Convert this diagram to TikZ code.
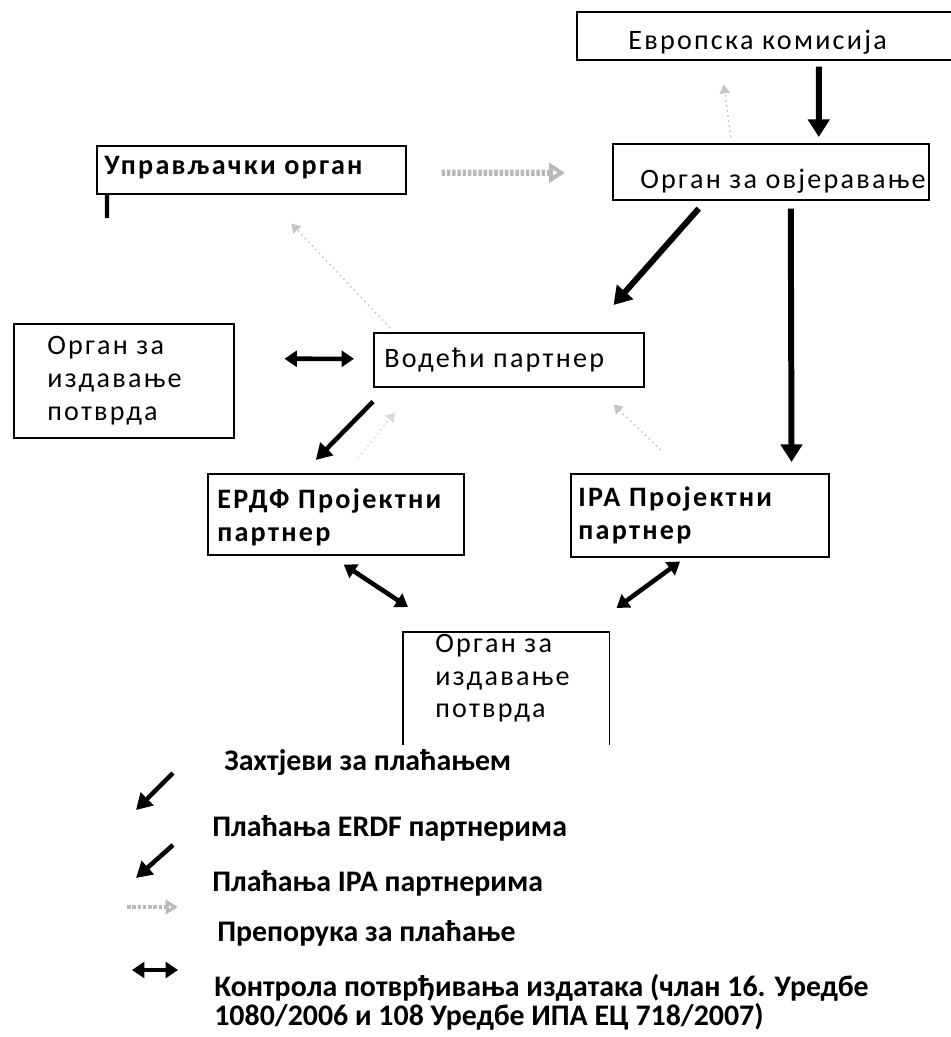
\documentclass[tikz,border=0pt]{standalone}
\usepackage{fontspec}
\setmainfont{Carlito}
\newfontfamily\boxfont[LetterSpace=8]{Carlito}
\usetikzlibrary{arrows.meta}

\begin{document}
\begin{tikzpicture}[x=0.02cm,y=-0.02cm,
	box/.style={draw,line width=0.9pt,inner sep=0pt,anchor=north west},
	boxtext/.style={anchor=west,inner sep=0pt,align=left,font=\boxfont\fontsize{16}{18.7}\selectfont},
	boldtext/.style={boxtext,font=\boxfont\bfseries\fontsize{16}{18.7}\selectfont},
	pay/.style={line width=3.4pt,-{Triangle[length=10pt,width=12pt]}},
	paythin/.style={line width=2.6pt,-{Triangle[length=9pt,width=10pt]}},
	ctrl/.style={line width=2.6pt,{Triangle[length=7pt,width=9pt]}-{Triangle[length=7pt,width=9pt]}},
	rec/.style={gray!55,line width=3.5pt,dash pattern=on 2pt off 1pt,-{Triangle[open,length=9pt,width=11pt]}},
	req/.style={gray!45,dotted,line width=0.9pt,-{Triangle[length=5pt,width=6pt]}},
	legend/.style={anchor=west,inner sep=0pt,align=left,font=\bfseries\fontsize{17}{16.6}\selectfont}]
	\useasboundingbox (0,0) rectangle (950,1037);
	% boxes
	\node[box,minimum width=7.78cm,minimum height=0.96cm](ec) at (576,11){};
	\node[boxtext,yshift=-0.12cm](ectext) at ([xshift=1.04cm]ec.west){Европска комисија};
	\node[box,minimum width=6.32cm,minimum height=1.12cm](ca) at (612,143){};
	\node[boxtext,yshift=-0.18cm](catext) at ([xshift=0.56cm]ca.west){Орган за овјеравање};
	\node[box,minimum width=6.18cm,minimum height=0.96cm](ma) at (96,145){};
	\node[boldtext,yshift=0.05cm](matext) at ([xshift=0.16cm]ma.west){Управљачки орган};
	\node[box,minimum width=4.4cm,minimum height=2.28cm](cbl) at (13,323){};
	\node[boxtext](cbltext) at ([xshift=0.68cm]cbl.west){Орган за\\издавање\\потврда};
	\node[box,minimum width=5.4cm,minimum height=1.08cm](lp) at (373,332){};
	\node[boxtext](lptext) at ([xshift=0.22cm]lp.west){Водећи партнер};
	\node[box,minimum width=5.12cm,minimum height=1.62cm](erdf) at (207,473){};
	\node[boldtext,yshift=-0.06cm](erdftext) at ([xshift=0.2cm]erdf.west){ЕРДФ Пројектни\\партнер};
	\node[box,minimum width=5.16cm,minimum height=1.66cm](ipa) at (570,473){};
	\node[boldtext](ipatext) at ([xshift=0.16cm]ipa.west){IPA Пројектни\\партнер};
	\node[box,draw=none,minimum width=4.1cm,minimum height=2.22cm](cbb) at (403,632){};
	\draw[line width=0.9pt](cbb.south west)--(cbb.north west)--(cbb.north east)--(cbb.south east);
	\node[boxtext,yshift=0.2cm](cbbtext) at ([xshift=0.64cm]cbb.west){Орган за\\издавање\\потврда};
	\coordinate (matail) at (107,218);
	\draw[line width=2.4pt]([xshift=0.22cm]ma.south west)--(matail);
	% payments and control
	\draw[pay]([shift={(47.5,6)}]ec.south)--([shift={(48,-6)}]ca.north);
	\draw[pay]([shift={(-72,8)}]ca.south)--([shift={(-31,-27)}]lp.north east);
	\draw[pay]([shift={(20,8)}]ca.south)--([shift={(-38,-11)}]ipa.north east);
	\draw[paythin]([shift={(0,14)}]lp.south west)--([shift={(-20,-13)}]erdf.north);
	\draw[ctrl]([shift={(50,-22)}]cbl.east)--([shift={(-19,-1)}]lp.west);
	\draw[ctrl]([shift={(8,9)}]erdf.south)--([shift={(5,-25)}]cbb.north west);
	\draw[ctrl]([shift={(110,4)}]ipa.south west)--([shift={(7,-24)}]cbb.north east);
	% recommendation and requests
	\draw[rec]([shift={(35,3)}]ma.east)--([shift={(-47,1)}]ca.west);
	\draw[req]([shift={(17,-4)}]lp.north west)--([shift={(40,29)}]ma.south);
	\draw[req]([shift={(-39,-23)}]ipa.north)--([shift={(-31,17)}]lp.south east);
	\draw[req,gray!30]([shift={(22,-15)}]erdf.north)--([shift={(22,25)}]lp.south west);
	\draw[req]([shift={(-40,-6)}]ca.north)--([shift={(-47.5,24)}]ec.south);
	% legend
	\node[legend](lreq) at (224,763){Захтјеви за плаћањем};
	\node[legend](lerdf) at (212,828){Плаћања ERDF партнерима};
	\node[legend](lipa) at (212,883){Плаћања IPA партнерима};
	\node[legend](lrec) at (217,933){Препорука за плаћање};
	\node[legend](lctrl) at (214,1002){Контрола потврђивања издатака (члан 16. Уредбе\\1080/2006 и 108 Уредбе ИПА ЕЦ 718/2007)};
	\coordinate (k1a) at (173,773);
	\coordinate (k1b) at (136,810);
	\coordinate (k2a) at (173,845);
	\coordinate (k2b) at (136,878);
	\coordinate (k3a) at (127,907);
	\coordinate (k3b) at (178,907);
	\coordinate (k4a) at (132,970);
	\coordinate (k4b) at (178,970);
	\draw[paythin](k1a)--(k1b);
	\draw[paythin](k2a)--(k2b);
	\draw[rec,line width=2.5pt,-{Triangle[open,length=7pt,width=8pt]}](k3a)--(k3b);
	\draw[ctrl](k4a)--(k4b);
\end{tikzpicture}
\end{document}
